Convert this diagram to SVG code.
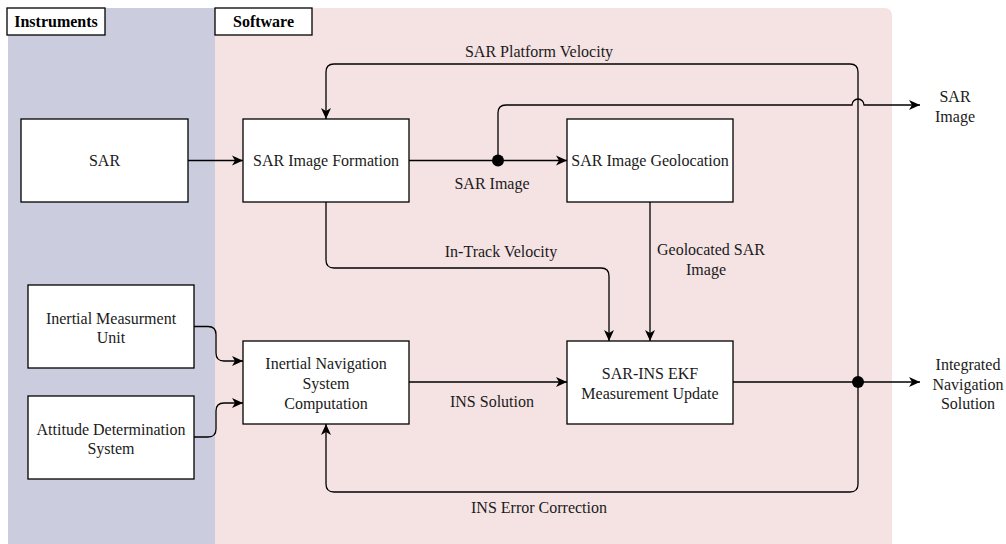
<svg xmlns="http://www.w3.org/2000/svg" width="1006" height="544" viewBox="0 0 1006 544" font-family="'Liberation Serif', 'DejaVu Serif', serif">
<defs>
<marker id="arr" markerWidth="12" markerHeight="12" viewBox="0 0 12 12" refX="11" refY="6" orient="auto" markerUnits="userSpaceOnUse">
<path d="M0,1 L11,6 L0,11 L3,6 z" fill="#000"/>
</marker>
<style>
text{font-family:'Liberation Serif', 'DejaVu Serif', serif;font-size:16px;fill:#1a1a1a;text-anchor:middle}
.hdr{font-weight:bold;fill:#000}
.box{fill:#fff;stroke:#000;stroke-width:1.3}
.edge{fill:none;stroke:#000;stroke-width:1.3}
.arrow{marker-end:url(#arr)}
</style>
</defs>
<g id="lanes">
<rect x="8" y="8" width="207" height="536" fill="#ccccdf"/>
<path d="M215,8 L884,8 Q892,8 892,16 L892,544 L215,544 z" fill="#f5e3e4"/>
<rect x="7" y="8" width="98" height="27" fill="#fff" stroke="#000" stroke-width="1.3"/>
<text class="hdr" x="56" y="27">Instruments</text>
<rect x="215" y="8" width="97" height="27" fill="#fff" stroke="#000" stroke-width="1.3"/>
<text class="hdr" x="263.5" y="27">Software</text>
</g>
<g id="connectors">
<path class="edge arrow" d="M188,160.5 L243,160.5"/>
<path class="edge arrow" d="M409,160.5 L567,160.5"/>
<path class="edge arrow" d="M498,160.5 L498,113 Q498,105 506,105 L852,105 A6,6 0 0 1 864,105 L920,105"/>
<path class="edge arrow" d="M858,382 L858,72 Q858,64 850,64 L334,64 Q326,64 326,72 L326,119"/>
<path class="edge arrow" d="M858,382 L858,484 Q858,492 850,492 L334,492 Q326,492 326,484 L326,424"/>
<path class="edge arrow" d="M326,202 L326,260 Q326,268 334,268 L601,268 Q609,268 609,276 L609,341"/>
<path class="edge arrow" d="M650,202 L650,341"/>
<path class="edge arrow" d="M409,382 L567,382"/>
<path class="edge arrow" d="M733,382 L920,382"/>
<path class="edge arrow" d="M194,326.5 L208,326.5 Q216,326.5 216,334.5 L216,353 Q216,361 224,361 L243,361"/>
<path class="edge arrow" d="M194,437 L208,437 Q216,437 216,429 L216,411 Q216,403 224,403 L243,403"/>
<circle cx="498" cy="160.5" r="6" fill="#000"/>
<circle cx="858" cy="382" r="6" fill="#000"/>
<text x="539" y="56.5">SAR Platform Velocity</text>
<text x="492" y="188.5">SAR Image</text>
<text x="501" y="257">In-Track Velocity</text>
<text x="711" y="255">Geolocated SAR</text>
<text x="706" y="275">Image</text>
<text x="492" y="406.5">INS Solution</text>
<text x="539" y="513">INS Error Correction</text>
<text x="955" y="102">SAR</text>
<text x="955" y="122">Image</text>
<text x="968" y="369.5">Integrated</text>
<text x="968" y="389.5">Navigation</text>
<text x="968" y="409">Solution</text>
</g>
<g id="sar">
<rect class="box" x="21" y="119" width="167" height="83"/>
<text x="104.5" y="166">SAR</text>
</g>
<g id="imu">
<rect class="box" x="28" y="285" width="166" height="83"/>
<text x="111" y="323.5">Inertial Measurment</text>
<text x="111" y="343">Unit</text>
</g>
<g id="ads">
<rect class="box" x="28" y="396" width="166" height="83"/>
<text x="111" y="434.5">Attitude Determination</text>
<text x="111" y="454">System</text>
</g>
<g id="formation">
<rect class="box" x="243" y="119" width="166" height="83"/>
<text x="326" y="166">SAR Image Formation</text>
</g>
<g id="geolocation">
<rect class="box" x="567" y="119" width="166" height="83"/>
<text x="650" y="166">SAR Image Geolocation</text>
</g>
<g id="ins">
<rect class="box" x="243" y="341" width="166" height="83"/>
<text x="326" y="368.5">Inertial Navigation</text>
<text x="326" y="388.5">System</text>
<text x="326" y="408.5">Computation</text>
</g>
<g id="ekf">
<rect class="box" x="567" y="341" width="166" height="83"/>
<text x="650" y="378.5">SAR-INS EKF</text>
<text x="650" y="398.5">Measurement Update</text>
</g>
</svg>
